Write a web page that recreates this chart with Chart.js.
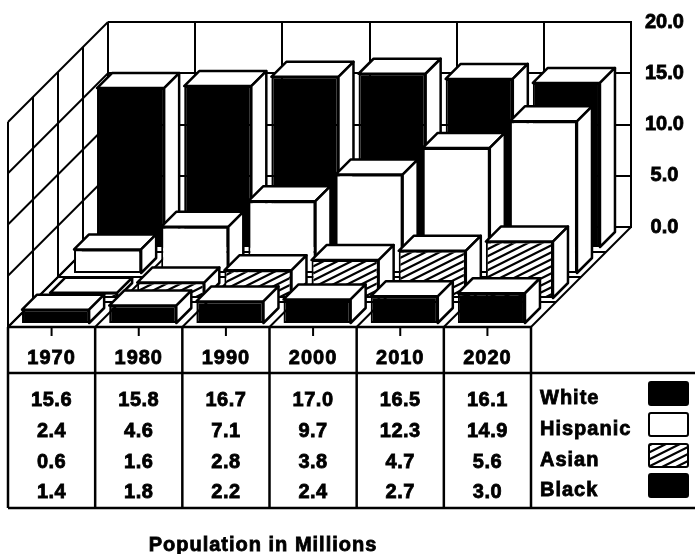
<!DOCTYPE html>
<html>
<head>
<meta charset="utf-8">
<title>Population in Millions</title>
<script src="https://cdn.jsdelivr.net/npm/chart.js@4"></script>
<style>
  html, body { margin: 0; padding: 0; background: #fff; }
  canvas { display: block; }
</style>
</head>
<body>
<canvas id="popChart" width="695" height="554"></canvas>
<script>
const years = ["1970", "1980", "1990", "2000", "2010", "2020"];
const seriesNames = ["White", "Hispanic", "Asian", "Black"];
const white = [15.6, 15.8, 16.7, 17.0, 16.5, 16.1];
const hispanic = [2.4, 4.6, 7.1, 9.7, 12.3, 14.9];
const asian = [0.6, 1.6, 2.8, 3.8, 4.7, 5.6];
const black = [1.4, 1.8, 2.2, 2.4, 2.7, 3.0];
const title = "Population in Millions";

const FONT = '"Liberation Sans", Arial, sans-serif';
const DEPTH = 100;        // floor depth in px, front edge to back wall
const BOX = 15;           // depth of one bar
// how far each row sits in front of the wall
const SHIFT_X = [21, 44, 68, 96];
const SHIFT_Y = [21, 47, 72, 97];

const canvas = document.getElementById("popChart");
const ctx = canvas.getContext("2d");
ctx.letterSpacing = "1px";

// diagonal hatch for the Asian bars
function makeHatch() {
  const tile = document.createElement("canvas");
  tile.width = 14;
  tile.height = 7;
  const t = tile.getContext("2d");
  t.fillStyle = "#fff";
  t.fillRect(0, 0, 14, 7);
  t.strokeStyle = "#000";
  t.lineWidth = 2.2;
  t.beginPath();
  t.moveTo(-14, 14);
  t.lineTo(28, -7);
  t.moveTo(-14, 7);
  t.lineTo(14, -7);
  t.moveTo(0, 14);
  t.lineTo(28, 0);
  t.stroke();
  return ctx.createPattern(tile, "repeat");
}
const hatch = makeHatch();
const fills = ["#000", "#fff", hatch, "#000"];

function line(c, x1, y1, x2, y2) {
  c.beginPath();
  c.moveTo(x1, y1);
  c.lineTo(x2, y2);
  c.stroke();
}

// bold text with a bit of ink spread, like the printed original
function inkText(c, text, x, y) {
  c.strokeText(text, x, y);
  c.fillText(text, x, y);
}

// left wall and floor, worked out from the back wall scales
const wallsPlugin = {
  id: "walls",
  beforeDatasetsDraw(chart) {
    const c = chart.ctx;
    const { x, y } = chart.scales;
    const area = chart.chartArea;
    c.save();
    c.strokeStyle = "#000";
    c.lineWidth = 2;
    y.ticks.forEach((t) => {
      const py = y.getPixelForValue(t.value);
      line(c, area.left, py, area.left - DEPTH, py + DEPTH);
    });
    const step = x.getPixelForValue(1) - x.getPixelForValue(0);
    for (let i = 0; i <= years.length; i++) {
      const px = area.left + step * i;
      line(c, px, area.bottom, px - DEPTH, area.bottom + DEPTH);
    }
    for (let k = 0; k <= 3; k++) {
      const off = 25 * k;
      // rows across the floor and uprights on the left wall
      line(c, area.left - off, area.bottom + off, area.right - off, area.bottom + off);
      line(c, area.left - off, area.top + off, area.left - off, area.bottom + off);
    }
    line(c, area.left - DEPTH, area.top + DEPTH, area.left - DEPTH, area.bottom + DEPTH);
    c.lineWidth = 2.5;
    line(c, area.left - DEPTH, area.bottom + DEPTH, area.right - DEPTH, area.bottom + DEPTH);
    c.restore();
  },
};

// moves each row forward and adds the top and side faces of its bars
const boxPlugin = {
  id: "boxes",
  beforeDatasetDraw(chart, args) {
    const c = chart.ctx;
    c.save();
    c.translate(-SHIFT_X[args.index], SHIFT_Y[args.index]);
    c.fillStyle = "#fff";
    c.strokeStyle = "#000";
    c.lineWidth = 2.5;
    c.lineJoin = "round";
    args.meta.data.forEach((bar) => {
      const p = bar.getProps(["x", "y", "base", "width"]);
      const l = p.x - p.width / 2;
      const r = p.x + p.width / 2;
      c.beginPath();
      c.moveTo(l, p.y);
      c.lineTo(l + BOX, p.y - BOX);
      c.lineTo(r + BOX, p.y - BOX);
      c.lineTo(r, p.y);
      c.closePath();
      c.fill();
      c.stroke();
      c.beginPath();
      c.moveTo(r, p.y);
      c.lineTo(r + BOX, p.y - BOX);
      c.lineTo(r + BOX, p.base - BOX);
      c.lineTo(r, p.base);
      c.closePath();
      c.fill();
      c.stroke();
    });
  },
  afterDatasetDraw(chart) {
    chart.ctx.restore();
  },
};

// year row, value rows, legend and the caption under the chart
const tablePlugin = {
  id: "dataTable",
  afterDraw(chart) {
    const c = chart.ctx;
    const { x } = chart.scales;
    const step = x.getPixelForValue(1) - x.getPixelForValue(0);
    const left = chart.chartArea.left - DEPTH;
    const top = chart.chartArea.bottom + DEPTH;
    const head = 373;
    const bottom = 508;
    const rowY = [400, 431, 462, 492];
    const rows = [white, hispanic, asian, black];

    c.save();
    c.strokeStyle = "#000";
    c.fillStyle = "#000";
    c.lineWidth = 2.5;
    line(c, left, head, 695, head);
    line(c, left, bottom, 695, bottom);
    for (let i = 0; i <= years.length; i++) {
      line(c, left + step * i, top, left + step * i, bottom);
    }

    c.textAlign = "center";
    c.textBaseline = "middle";
    c.font = "bold 20px " + FONT;
    c.letterSpacing = "1px";
    years.forEach((year, i) => {
      const cx = x.getPixelForValue(i) - DEPTH;
      c.lineWidth = 2;
      line(c, cx, top, cx, top + 9);
      c.lineWidth = 0.8;
      inkText(c, year, cx, 358);
    });
    c.letterSpacing = "0.5px";
    rows.forEach((values, r) => {
      values.forEach((v, i) => {
        inkText(c, v.toFixed(1), x.getPixelForValue(i) - DEPTH, rowY[r]);
      });
    });

    c.textAlign = "left";
    c.letterSpacing = "1px";
    seriesNames.forEach((name, r) => {
      c.fillStyle = "#000";
      c.lineWidth = 0.8;
      inkText(c, name, 540, rowY[r] - 2);
      c.fillStyle = fills[r];
      c.lineWidth = 2;
      c.beginPath();
      c.roundRect(649, rowY[r] - 18, 39, 23, 2);
      c.fill();
      c.stroke();
    });

    c.fillStyle = "#000";
    c.textAlign = "center";
    c.lineWidth = 0.8;
    inkText(c, title, 263, 545);
    c.restore();
  },
};

const seriesData = [white, hispanic, asian, black];

new Chart(ctx, {
  type: "bar",
  data: {
    labels: years,
    datasets: seriesNames.map((name, i) => ({
      label: name,
      data: seriesData[i],
      backgroundColor: fills[i],
      borderColor: "#000",
      borderWidth: 2,
      borderSkipped: false,
      grouped: false,
      categoryPercentage: 1,
      barPercentage: 0.77,
      clip: false,
      order: seriesNames.length - i,
    })),
  },
  options: {
    responsive: false,
    animation: false,
    layout: { padding: { left: 108, top: 22, right: 0, bottom: 327 } },
    plugins: { legend: { display: false }, title: { display: false }, tooltip: { enabled: false } },
    scales: {
      x: {
        afterFit(scale) { scale.height = 0; },
        grid: { offset: true, color: "#000", lineWidth: 2, drawTicks: false },
        border: { color: "#000", width: 2 },
        ticks: { display: false },
      },
      y: {
        position: "right",
        min: 0,
        max: 20,
        afterFit(scale) {
          scale.width = 64;
          // tick padding would otherwise push the top of the wall down
          scale.paddingTop = 0;
          scale.paddingBottom = 0;
        },
        grid: { color: "#000", lineWidth: 2, drawTicks: false },
        border: { color: "#000", width: 2 },
        ticks: {
          stepSize: 5,
          color: "#000",
          padding: 14,
          crossAlign: "center",
          textStrokeColor: "#000",
          textStrokeWidth: 0.8,
          font: { family: FONT, size: 20, weight: "bold" },
          callback: (v) => v.toFixed(1),
        },
      },
    },
  },
  plugins: [wallsPlugin, boxPlugin, tablePlugin],
});
</script>
</body>
</html>
